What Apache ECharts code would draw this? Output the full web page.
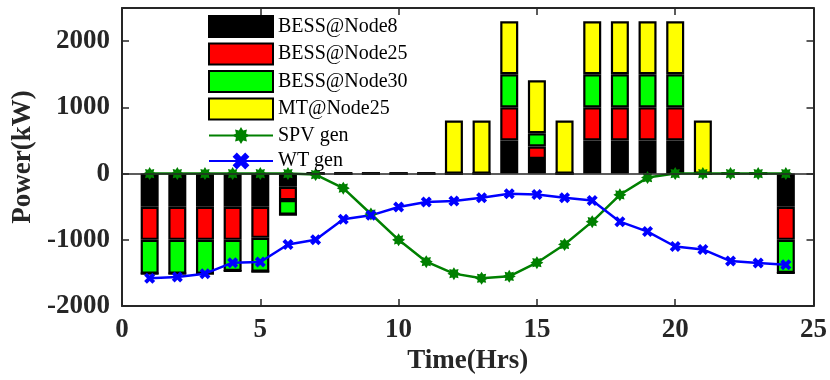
<!DOCTYPE html>
<html>
<head>
<meta charset="utf-8">
<script src="https://cdn.jsdelivr.net/npm/echarts@6/dist/echarts.min.js"></script>
<style>
  html, body { margin: 0; padding: 0; background: #fff; }
  #chart { width: 830px; height: 380px; }
</style>
</head>
<body>
<div id="chart"></div>
<script>
const hourTicks = [0, 1, 2, 3, 4, 5, 6, 7, 8, 9, 10, 11, 12, 13, 14, 15, 16, 17, 18, 19, 20, 21, 22, 23, 24, 25]
const hours = [1, 2, 3, 4, 5, 6, 7, 8, 9, 10, 11, 12, 13, 14, 15, 16, 17, 18, 19, 20, 21, 22, 23, 24]
const bessNode8 = [-500, -500, -500, -500, -500, -200, 0, 0, 0, 0, 0, 0, 0, 500, 220, 0, 500, 500, 500, 500, 0, 0, 0, -500]
const bessNode25 = [-500, -500, -500, -500, -470, -200, 0, 0, 0, 0, 0, 0, 0, 500, 190, 0, 500, 500, 500, 500, 0, 0, 0, -500]
const bessNode30 = [-510, -510, -510, -470, -510, -220, 0, 0, 0, 0, 0, 0, 0, 500, 200, 0, 500, 500, 500, 500, 0, 0, 0, -500]
const mtNode25 = [0, 0, 0, 0, 0, 0, 0, 0, 0, 0, 0, 800, 800, 800, 800, 800, 800, 800, 800, 800, 800, 0, 0, 0]
const spvGen = [0, 0, 0, 0, 0, 0, -15, -220, -610, -1000, -1330, -1510, -1580, -1550, -1345, -1070, -725, -320, -60, 0, 0, 0, 0, 0]
const wtGen = [-1580, -1560, -1510, -1345, -1335, -1070, -1000, -690, -630, -505, -430, -415, -365, -305, -315, -365, -405, -725, -875, -1100, -1145, -1320, -1350, -1375]

const font = 'Liberation Serif'
const axisColor = '#262626'

// asterisk-like marker (8 point star)
function starPath() {
    let d = ''
    for (let i = 0; i < 16; i++) {
        const r = i % 2 === 0 ? 10 : 6.5
        const a = Math.PI * i / 8 - Math.PI / 2
        const x = (10 + r * Math.cos(a)).toFixed(2)
        const y = (10 + r * Math.sin(a)).toFixed(2)
        d += (i === 0 ? 'M' : 'L') + x + ',' + y + ' '
    }
    return 'path://' + d + 'Z'
}
const crossPath = 'path://M0,2.5 L2.5,0 L5,2.5 L7.5,0 L10,2.5 L7.5,5 L10,7.5 L7.5,10 L5,7.5 L2.5,10 L0,7.5 L2.5,5 Z'

// map hour values onto the 0..25 category slots
function onTicks(vals) {
    return hourTicks.map(t => {
        const i = hours.indexOf(t)
        return i < 0 ? null : vals[i]
    })
}

function barSeries(name, vals, color, withBaseline) {
    const s = {
        name: name,
        type: 'bar',
        stack: 'ess',
        barWidth: 18,
        data: onTicks(vals),
        itemStyle: { color: color, borderColor: '#000', borderWidth: 2.2 }
    }
    if (withBaseline) {
        s.markLine = {
            silent: true,
            symbol: 'none',
            label: { show: false },
            lineStyle: { color: axisColor, width: 1.5, type: 'solid' },
            data: [{ yAxis: 0 }]
        }
    }
    return s
}

const myChart = echarts.init(document.getElementById('chart'))

const tickStyle = { show: true, inside: true, length: 7, interval: 4, lineStyle: { color: axisColor, width: 1.5 } }
const yTickStyle = { show: true, inside: true, length: 7, lineStyle: { color: axisColor, width: 1.5 } }
const lineStyle = { show: true, onZero: false, lineStyle: { color: axisColor, width: 2 } }
const labelFont = { fontFamily: font, fontSize: 27, fontWeight: 'bold', color: '#262626' }

const option = {
    animation: false,
    grid: { left: 122, right: 14, top: 8, bottom: 70 },
    legend: {
        left: 208,
        top: 15,
        orient: 'vertical',
        padding: 0,
        itemWidth: 64,
        itemHeight: 21,
        itemGap: 4.5,
        textStyle: { fontFamily: font, fontSize: 20, color: '#000', lineHeight: 21 },
        data: [
            { name: 'BESS@Node8', icon: 'rect' },
            { name: 'BESS@Node25', icon: 'rect' },
            { name: 'BESS@Node30', icon: 'rect' },
            { name: 'MT@Node25', icon: 'rect' },
            { name: 'SPV gen' },
            { name: 'WT gen' }
        ]
    },
    xAxis: [
        {
            type: 'category',
            data: hourTicks,
            boundaryGap: false,
            name: 'Time(Hrs)',
            nameLocation: 'middle',
            nameGap: 37,
            nameTextStyle: labelFont,
            axisLine: lineStyle,
            axisTick: tickStyle,
            splitLine: { show: false },
            axisLabel: Object.assign({ interval: 4, margin: 10 }, labelFont)
        },
        {
            type: 'category',
            data: hourTicks,
            boundaryGap: false,
            position: 'top',
            axisLine: lineStyle,
            axisTick: tickStyle,
            splitLine: { show: false },
            axisLabel: { show: false }
        }
    ],
    yAxis: [
        {
            type: 'value',
            min: -2000,
            max: 2500,
            interval: 1000,
            name: 'Power(kW)',
            nameLocation: 'middle',
            nameGap: 85,
            nameTextStyle: labelFont,
            axisLine: lineStyle,
            axisTick: yTickStyle,
            splitLine: { show: false },
            axisLabel: Object.assign({ margin: 12, showMaxLabel: false, formatter: v => String(v) }, labelFont)
        },
        {
            type: 'value',
            position: 'right',
            min: -2000,
            max: 2500,
            interval: 1000,
            axisLine: lineStyle,
            axisTick: yTickStyle,
            splitLine: { show: false },
            axisLabel: { show: false }
        }
    ],
    series: [
        barSeries('BESS@Node8', bessNode8, '#000000', true),
        barSeries('BESS@Node25', bessNode25, '#ff0000'),
        barSeries('BESS@Node30', bessNode30, '#00ff00'),
        barSeries('MT@Node25', mtNode25, '#ffff00'),
        {
            name: 'SPV gen',
            type: 'line',
            data: onTicks(spvGen),
            symbol: starPath(),
            symbolSize: 13,
            lineStyle: { color: '#008000', width: 2.5 },
            itemStyle: { color: '#008000' }
        },
        {
            name: 'WT gen',
            type: 'line',
            data: onTicks(wtGen),
            symbol: crossPath,
            symbolSize: 11,
            lineStyle: { color: '#0000ff', width: 2.5 },
            itemStyle: { color: '#0000ff' }
        }
    ]
}

myChart.setOption(option)
</script>
</body>
</html>
